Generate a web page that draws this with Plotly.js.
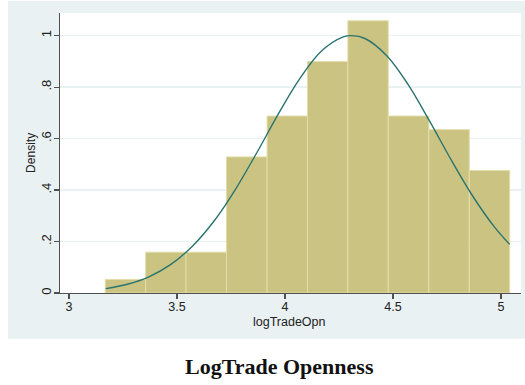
<!DOCTYPE html>
<html>
<head>
<meta charset="utf-8">
<script src="https://cdn.plot.ly/plotly-3.0.1.min.js"></script>
<style>html,body{margin:0;padding:0;background:#fff;}#chart{width:525px;height:385px;}</style>
</head>
<body>
<div id="chart"></div>
<script>
// ---- data ----
var binEdges = [3.168, 3.355, 3.542, 3.729, 3.917, 4.104, 4.291, 4.478, 4.666, 4.853, 5.040];
var densities = [0.0529, 0.1587, 0.1587, 0.5289, 0.6876, 0.8992, 1.0578, 0.6876, 0.6347, 0.4760];
var curveX = [3.17, 3.27, 3.37, 3.47, 3.57, 3.67, 3.77, 3.87, 3.97, 4.07, 4.17, 4.27, 4.31, 4.37, 4.47, 4.57, 4.67, 4.77, 4.87, 4.97, 5.04];
var curveY = [0.017, 0.034, 0.063, 0.110, 0.181, 0.278, 0.402, 0.546, 0.697, 0.835, 0.941, 0.995, 1.000, 0.989, 0.923, 0.810, 0.667, 0.516, 0.375, 0.256, 0.189];
var xTickVals = [3, 3.5, 4, 4.5, 5];
var xTickText = ['3', '3.5', '4', '4.5', '5'];
var yTickVals = [0, 0.2, 0.4, 0.6, 0.8, 1];
var yTickText = ['0', '.2', '.4', '.6', '.8', '1'];
var xTitle = 'logTradeOpn';
var yTitle = 'Density';
var caption = 'LogTrade Openness';

// ---- build bars from the bin edges ----
var centers = [], widths = [];
for (var i = 0; i < densities.length; i++) {
  centers.push((binEdges[i] + binEdges[i + 1]) / 2);
  widths.push(binEdges[i + 1] - binEdges[i]);
}

var W = 525, H = 385;
var M = {l: 60, r: 3.5, t: 13, b: 91.7};
var pw = W - M.l - M.r, ph = H - M.t - M.b;
function px(p) { return (p - M.l) / pw; }
function py(q) { return (H - M.b - q) / ph; }

var bg = '#E9F1F2';
var sans = 'Liberation Sans, Arial, sans-serif';

var traces = [
  {
    type: 'bar', x: centers, y: densities, width: widths,
    marker: {color: '#CBC381', line: {color: '#E3DDA9', width: 1}},
    hoverinfo: 'skip', showlegend: false
  },
  {
    type: 'scatter', mode: 'lines', x: curveX, y: curveY,
    line: {color: '#2A7470', width: 1.4, shape: 'spline'},
    hoverinfo: 'skip', showlegend: false
  }
];

var layout = {
  width: W, height: H,
  margin: M,
  paper_bgcolor: '#ffffff',
  plot_bgcolor: '#ffffff',
  bargap: 0,
  showlegend: false,
  shapes: [
    {type: 'rect', xref: 'paper', yref: 'paper', layer: 'below',
     x0: px(8), x1: px(526), y0: py(339), y1: py(1),
     fillcolor: bg, line: {width: 0}},
    {type: 'rect', xref: 'paper', yref: 'paper', layer: 'below',
     x0: 0, x1: 1, y0: 0, y1: 1,
     fillcolor: '#ffffff', line: {width: 0}}
  ],
  xaxis: {
    range: [2.9584, 5.0924],
    tickvals: xTickVals, ticktext: xTickText,
    ticks: 'outside', ticklen: 5, tickwidth: 1.2, tickcolor: '#505050',
    ticklabelstandoff: -3,
    showline: true, linecolor: '#505050', linewidth: 1.3,
    showgrid: false, zeroline: false,
    tickfont: {family: sans, size: 12.5, color: '#222'}
  },
  yaxis: {
    range: [0, 1.0881],
    tickvals: yTickVals, ticktext: yTickText,
    tickangle: -90,
    ticks: 'outside', ticklen: 5, tickwidth: 1.2, tickcolor: '#505050',
    ticklabelstandoff: -2,
    showline: true, linecolor: '#505050', linewidth: 1.3,
    showgrid: true, gridcolor: bg, gridwidth: 1.3,
    zeroline: false,
    tickfont: {family: sans, size: 13, color: '#222'}
  },
  annotations: [
    {text: xTitle, xref: 'paper', yref: 'paper',
     x: px(290), y: py(322), xanchor: 'center', yanchor: 'middle',
     showarrow: false, font: {family: sans, size: 12.5, color: '#222'}},
    {text: yTitle, xref: 'paper', yref: 'paper', textangle: -90,
     x: px(31), y: py(153), xanchor: 'center', yanchor: 'middle',
     showarrow: false, font: {family: sans, size: 12, color: '#222'}},
    {text: '<b>' + caption + '</b>', xref: 'paper', yref: 'paper',
     x: px(280), y: py(367), xanchor: 'center', yanchor: 'middle',
     showarrow: false,
     font: {family: 'Liberation Serif, Times New Roman, serif', size: 22, color: '#111'}}
  ]
};

Plotly.newPlot('chart', traces, layout, {displayModeBar: false, staticPlot: true});
</script>
</body>
</html>
